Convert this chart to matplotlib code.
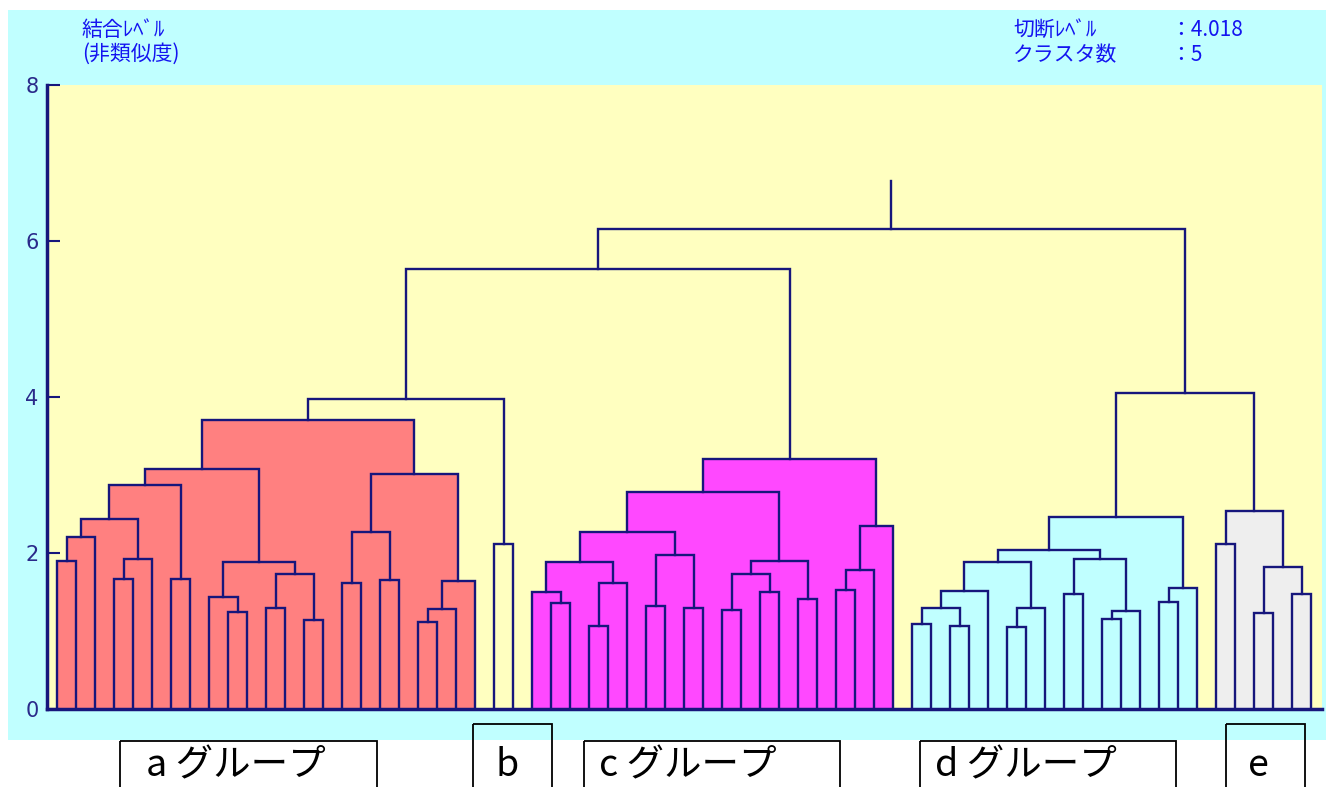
import matplotlib
matplotlib.use("Agg")
import matplotlib.pyplot as plt
from matplotlib.patches import Rectangle

plt.rcParams['font.family'] = ['Noto Sans CJK JP', 'DejaVu Sans']

# ---------------- data ----------------
n_leaves = 67
cut_level = 4.018
n_clusters = 5

# merges: (node, left child, right child, height); ints are leaf indices
group_a = [
    ("a1", 0, 1, 1.90), ("a2", "a1", 2, 2.20), ("a3", 3, 4, 1.67),
    ("a4", "a3", 5, 1.92), ("a5", "a2", "a4", 2.44), ("a6", 6, 7, 1.67),
    ("a7", "a5", "a6", 2.87), ("a8", 9, 10, 1.24), ("a9", 8, "a8", 1.44),
    ("a10", 11, 12, 1.30), ("a11", 13, 14, 1.14), ("a12", "a10", "a11", 1.73),
    ("a13", "a9", "a12", 1.88), ("a14", "a7", "a13", 3.08),
    ("a15", 15, 16, 1.62), ("a16", 17, 18, 1.66), ("a17", "a15", "a16", 2.27),
    ("a18", 19, 20, 1.12), ("a19", "a18", 21, 1.28), ("a20", "a19", 22, 1.64),
    ("a21", "a17", "a20", 3.01), ("a", "a14", "a21", 3.70),
]
group_b = [("b", 23, 24, 2.12)]
group_c = [
    ("c1", 26, 27, 1.36), ("c2", 25, "c1", 1.50), ("c3", 28, 29, 1.07),
    ("c4", "c3", 30, 1.62), ("c5", "c2", "c4", 1.89), ("c6", 31, 32, 1.32),
    ("c7", 33, 34, 1.30), ("c8", "c6", "c7", 1.97), ("c9", "c5", "c8", 2.27),
    ("c10", 35, 36, 1.27), ("c11", 37, 38, 1.50), ("c12", "c10", "c11", 1.73),
    ("c13", 39, 40, 1.41), ("c14", "c12", "c13", 1.90), ("c15", "c9", "c14", 2.78),
    ("c16", 41, 42, 1.53), ("c17", "c16", 43, 1.78), ("c18", "c17", 44, 2.35),
    ("c", "c15", "c18", 3.21),
]
group_d = [
    ("d1", 45, 46, 1.09), ("d2", 47, 48, 1.07), ("d3", "d1", "d2", 1.30),
    ("d4", "d3", 49, 1.51), ("d5", 50, 51, 1.05), ("d6", "d5", 52, 1.30),
    ("d7", "d4", "d6", 1.88), ("d8", 53, 54, 1.48), ("d9", 55, 56, 1.16),
    ("d10", "d9", 57, 1.26), ("d11", "d8", "d10", 1.92), ("d12", "d7", "d11", 2.04),
    ("d13", 58, 59, 1.37), ("d14", "d13", 60, 1.55), ("d", "d12", "d14", 2.46),
]
group_e = [
    ("e1", 61, 62, 2.11), ("e2", 63, 64, 1.23), ("e3", 65, 66, 1.48),
    ("e4", "e2", "e3", 1.82), ("e", "e1", "e4", 2.54),
]
upper_merges = [
    ("ab", "a", "b", 3.97), ("abc", "ab", "c", 5.64),
    ("de", "d", "e", 4.05), ("root", "abc", "de", 6.16),
]
root_stem_top = 6.77

cluster_groups = [group_a, group_b, group_c, group_d, group_e]
cluster_colors = ["#FF8080", "#FFFFC0", "#FF48FF", "#C0FFFF", "#EEEEEE"]
group_labels = ["a グループ", "b", "c グループ", "d グループ", "e"]

y_ticks = [0, 2, 4, 6, 8]
title_left = ["結合ﾚﾍﾞﾙ", "(非類似度)"]
title_right_keys = ["切断ﾚﾍﾞﾙ", "クラスタ数"]
title_right_vals = [f"：{cut_level:.3f}", f"：{n_clusters}"]

# ---------------- figure ----------------
W, H = 1326, 787
fig = plt.figure(figsize=(W / 100, H / 100), dpi=100)
fig.patch.set_facecolor("white")

navy = "#16167C"
blue_text = "#1414F0"

# background axes in pixel coordinates
bg = fig.add_axes([0, 0, 1, 1], zorder=0)
bg.set_xlim(0, W)
bg.set_ylim(H, 0)
bg.axis("off")
bg.add_patch(Rectangle((8, 10), W - 8, 730, facecolor="#C0FFFF", edgecolor="none"))

# label boxes (layout)
box_specs = [(120, 741, 257), (473, 724, 79), (584, 741, 256), (920, 741, 256), (1226, 724, 79)]
text_cx = [236, 507, 688, 1026, 1258]
for (bx, by, bw), lab, tx in zip(box_specs, group_labels, text_cx):
    bg.add_patch(Rectangle((bx, by), bw, 80, facecolor="none", edgecolor="black", lw=1.3))
    bg.text(tx, 766, lab, fontsize=27, ha="center", va="center", color="black")

# header texts
hdr_fs = 15
bg.text(82, 30, title_left[0], fontsize=hdr_fs, color=blue_text, va="center", ha="left")
bg.text(82, 54, title_left[1], fontsize=hdr_fs, color=blue_text, va="center", ha="left")
bg.text(1013, 30, title_right_keys[0], fontsize=hdr_fs, color=blue_text, va="center", ha="left")
bg.text(1013, 55, title_right_keys[1], fontsize=hdr_fs, color=blue_text, va="center", ha="left")
bg.text(1170, 30, title_right_vals[0], fontsize=hdr_fs, color=blue_text, va="center", ha="left")
bg.text(1170, 55, title_right_vals[1], fontsize=hdr_fs, color=blue_text, va="center", ha="left")

# main dendrogram axes
ax_left, ax_right, ax_top, ax_bottom = 47, 1322, 85, 709
ax = fig.add_axes([ax_left / W, 1 - ax_bottom / H, (ax_right - ax_left) / W,
                   (ax_bottom - ax_top) / H], zorder=1)
ax.set_facecolor("#FFFFC0")
leaf_px0, leaf_step = 57, 19.0
ax.set_xlim((ax_left - leaf_px0) / leaf_step, (ax_right - leaf_px0) / leaf_step)
ax.set_ylim(0, 8)

pos = {i: float(i) for i in range(n_leaves)}
hgt = {i: 0.0 for i in range(n_leaves)}
all_merges = [m for g in cluster_groups for m in g] + upper_merges
for name, l, r, h in all_merges:
    pos[name] = (pos[l] + pos[r]) / 2
    hgt[name] = h

# cluster fills (union of merge rectangles)
for grp, col in zip(cluster_groups, cluster_colors):
    for name, l, r, h in grp:
        ax.add_patch(Rectangle((pos[l], 0), pos[r] - pos[l], h,
                               facecolor=col, edgecolor="none", zorder=1))

# link lines
for name, l, r, h in all_merges:
    ax.plot([pos[l], pos[l], pos[r], pos[r]], [hgt[l], h, h, hgt[r]],
            color=navy, lw=1.7, solid_joinstyle="miter", zorder=3)
ax.plot([pos["root"], pos["root"]], [hgt["root"], root_stem_top], color=navy, lw=1.7, zorder=3)

for s in ["top", "right"]:
    ax.spines[s].set_visible(False)
for s in ["left", "bottom"]:
    ax.spines[s].set_color(navy)
    ax.spines[s].set_linewidth(2.5)
    ax.spines[s].set_zorder(4)
ax.set_xticks([])
ax.set_yticks(y_ticks)
ax.set_yticklabels([str(t) for t in y_ticks], family="DejaVu Sans")
ax.tick_params(axis="y", direction="in", length=9, width=1.5, color=navy,
               labelcolor="#2A2A8A", labelsize=15, pad=6)

fig.savefig("out.png", dpi=100)
